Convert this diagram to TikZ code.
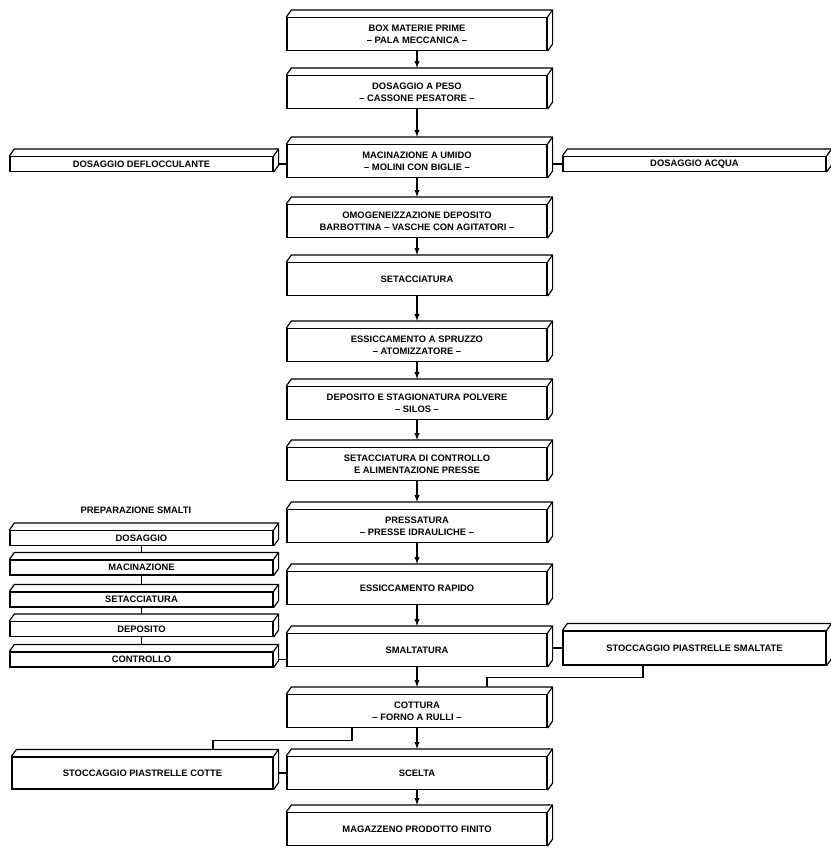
\documentclass[tikz,border=0pt]{standalone}
\usepackage{fontspec}
\setmainfont{Liberation Sans}
\usepackage{tikz}
\usetikzlibrary{shapes,arrows,positioning}

% depth faces of a slab: top edge and right side
\newcommand{\Depth}[1]{\draw [Link] (#1.north west) -- ++(5,-7) -| ([shift={(5,-7)}]#1.south east) -- (#1.south east) (#1.north east) -- ++(5,-7);}

\begin{document}
\begin{tikzpicture}[x=0.03cm,y=-0.03cm]
		\tikzstyle{Phase}	= [draw, fill=white, line width=1pt, inner sep=0pt, minimum width=7.8cm, minimum height=0.99cm, align=center, font=\fontsize{8}{10}\selectfont\bfseries]
		\tikzstyle{Aux}		= [Phase, minimum width=7.89cm, minimum height=0.45cm]
		\tikzstyle{Link}	= [line width=1pt]
		\tikzstyle{Flow}	= [-latex, Link, shorten >=0.21cm]
		\tikzstyle{Side}	= [-, Link, shorten <=0.15cm]

		\useasboundingbox (0,0) rectangle (831,854);

		% main line
		\node (box) at (417,34) [Phase] {BOX MATERIE PRIME\\-- PALA MECCANICA --};
		\node (peso) at (417,92) [Phase] {DOSAGGIO A PESO\\-- CASSONE PESATORE --};
		\node (umido) at (417,161) [Phase] {MACINAZIONE A UMIDO\\-- MOLINI CON BIGLIE --};
		\node (barb) at (417,221) [Phase] {OMOGENEIZZAZIONE DEPOSITO\\BARBOTTINA -- VASCHE CON AGITATORI --};
		\node (setac) at (417,279) [Phase] {SETACCIATURA};
		\node (spruzzo) at (417,345) [Phase] {ESSICCAMENTO A SPRUZZO\\-- ATOMIZZATORE --};
		\node (silos) at (417,403) [Phase] {DEPOSITO E STAGIONATURA POLVERE\\-- SILOS --};
		\node (alim) at (417,464) [Phase] {SETACCIATURA DI CONTROLLO\\E ALIMENTAZIONE PRESSE};
		\node (press) at (417,526) [Phase] {PRESSATURA\\-- PRESSE IDRAULICHE --};
		\node (rapido) at (417,588) [Phase] {ESSICCAMENTO RAPIDO};
		\node (smalt) at (417,650) [Phase] {SMALTATURA};
		\node (cottura) at (417,711) [Phase] {COTTURA\\-- FORNO A RULLI --};
		\node (scelta) at (417,773) [Phase] {SCELTA};
		\node (magaz) at (417,829) [Phase] {MAGAZZENO PRODOTTO FINITO};

		% side feeds
		\node (defl) at (141.5,164) [Aux] {DOSAGGIO DEFLOCCULANTE};
		\node (acqua) at (694.5,164) [Aux] {DOSAGGIO ACQUA};

		% glaze preparation
		\node (titolo) at (136,510) [font=\fontsize{8}{9}\selectfont\bfseries] {PREPARAZIONE SMALTI};
		\node (dos) at (141.5,538) [Aux] {DOSAGGIO};
		\node (mac) at (141.5,567.5) [Aux] {MACINAZIONE};
		\node (set) at (141.5,599.5) [Aux] {SETACCIATURA};
		\node (dep) at (141.5,629) [Aux] {DEPOSITO};
		\node (contr) at (141.5,659.5) [Aux] {CONTROLLO};

		% stores
		\node (smaltate) at (694.5,648) [Aux, minimum height=1.02cm] {STOCCAGGIO PIASTRELLE SMALTATE};
		\node (cotte) at (142.5,773) [Aux, minimum width=7.83cm, minimum height=0.96cm] {STOCCAGGIO PIASTRELLE COTTE};

		\foreach \n in {box,peso,umido,barb,setac,spruzzo,silos,alim,press,rapido,smalt,cottura,scelta,magaz,defl,acqua,dos,mac,set,dep,contr,smaltate,cotte}
			\Depth{\n};

		\foreach \a/\b in {box/peso,peso/umido,umido/barb,barb/setac,setac/spruzzo,spruzzo/silos,silos/alim,alim/press,press/rapido,rapido/smalt,smalt/cottura,cottura/scelta,scelta/magaz}
			\draw [Flow] (\a) to (\b);

		\foreach \a/\b in {dos/mac,mac/set,set/dep,dep/contr}
			\draw [Link, shorten >=0.21cm] (\a) to (\b);

		\draw [Side] (defl.east) to (defl.east -| umido.west);
		\draw [Side] (acqua.west -| umido.east) to (acqua.west);
		\draw [Side] (contr.east) to (contr.east -| smalt.west);
		\draw [Side] (smaltate.west -| smalt.east) to (smaltate.west);
		\draw [Side] (cotte.east) to (cotte.east -| scelta.west);

		\draw [Link, shorten >=0.21cm] ([shift={(-51.5,0)}]smaltate.south) -- ++(0,12) -| ([shift={(70,0)}]cottura.north);
		\draw [Link, shorten >=0.21cm] ([shift={(-65,0)}]cottura.south) -- ++(0,12) -| ([shift={(70.5,0)}]cotte.north);
	\end{tikzpicture}
\end{document}
